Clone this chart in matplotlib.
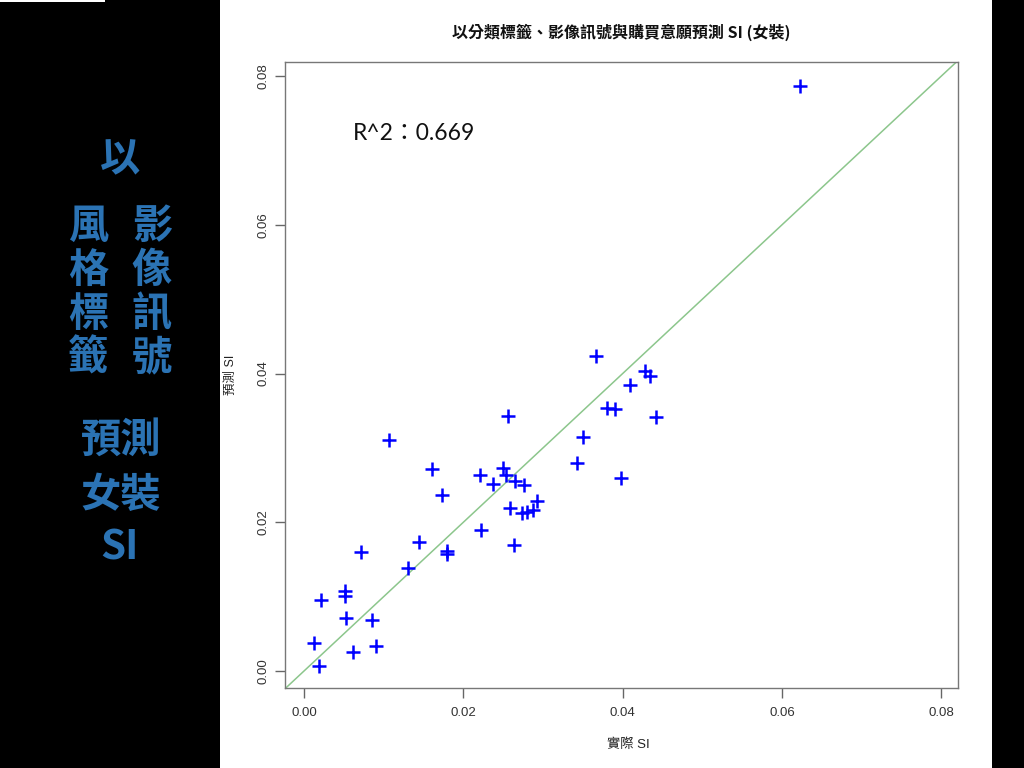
import matplotlib
matplotlib.use('Agg')
import matplotlib.pyplot as plt
from matplotlib.patches import Rectangle

actual_si = [0.0622, 0.0367, 0.0428, 0.0434, 0.0409, 0.0380, 0.0390, 0.0256,
             0.0442, 0.0106, 0.0350, 0.0161, 0.0343, 0.0221, 0.0250, 0.0253,
             0.0237, 0.0265, 0.0276, 0.0398, 0.0173, 0.0258, 0.0274, 0.0280,
             0.0287, 0.0292, 0.0222, 0.0264, 0.0144, 0.0071, 0.0179, 0.0179,
             0.0130, 0.0051, 0.0051, 0.0021, 0.0052, 0.0085, 0.0013, 0.0062,
             0.0090, 0.0019]
pred_si = [0.0787, 0.0423, 0.0403, 0.0397, 0.0385, 0.0353, 0.0352, 0.0343,
           0.0342, 0.0311, 0.0314, 0.0271, 0.0280, 0.0264, 0.0273, 0.0264,
           0.0252, 0.0256, 0.0250, 0.0260, 0.0236, 0.0219, 0.0212, 0.0214,
           0.0216, 0.0228, 0.0190, 0.0170, 0.0173, 0.0160, 0.0161, 0.0157,
           0.0139, 0.0108, 0.0101, 0.0095, 0.0071, 0.0069, 0.0037, 0.0026,
           0.0033, 0.0007]

ticks = [0.00, 0.02, 0.04, 0.06, 0.08]
tick_labels = ['0.00', '0.02', '0.04', '0.06', '0.08']

title = '以分類標籤、影像訊號與購買意願預測 SI (女裝)'
r2_text = 'R^2：0.669'

cjk = ['Noto Sans CJK TC', 'DejaVu Sans']
latin_cjk = ['Liberation Sans', 'Noto Sans CJK TC']
side_blue = '#2b73b4'

fig = plt.figure(figsize=(10.24, 7.68), dpi=100, facecolor='black')
# white slide area
fig.patches.append(Rectangle((220 / 1024, 0), 772 / 1024, 1, transform=fig.transFigure,
                             facecolor='white', edgecolor='none', zorder=-2))
fig.patches.append(Rectangle((0, 1 - 2 / 768), 105 / 1024, 2 / 768, transform=fig.transFigure,
                             facecolor='white', edgecolor='none', zorder=-2))

ax = fig.add_axes([285 / 1024, 80 / 768, 673 / 1024, 626 / 768])
ax.set_zorder(2)
ax.set_facecolor('white')
ax.plot(actual_si, pred_si, linestyle='none', marker='+', color='#0000ff',
        markersize=10, markeredgewidth=1.8, zorder=3)
ax.axline((0, 0), slope=1, color='#8cc68c', linewidth=1.1, zorder=2)

ax.set_xlim(-0.0024, 0.0821)
ax.set_ylim(-0.0023, 0.0819)
ax.set_xticks(ticks)
ax.set_xticklabels(tick_labels)
ax.set_yticks(ticks)
ax.set_yticklabels(tick_labels, rotation=90, va='center')
ax.tick_params(length=7, width=1, color='#666666', labelcolor='#333333', labelsize=9.5)
ax.tick_params(axis='x', pad=7)
ax.tick_params(axis='y', pad=4)
for lab in ax.get_xticklabels() + ax.get_yticklabels():
    lab.set_family('Liberation Sans')
for sp in ax.spines.values():
    sp.set_color('#777777')
    sp.set_linewidth(1)

ax.text(0.0061, 0.0723, r2_text, fontsize=16.5, family=['Lato', 'Noto Sans CJK TC'],
        color='#111111', ha='left', va='center')

fig.text(621 / 1024, 1 - 32 / 768, title, fontsize=11.5, fontweight='bold', family=cjk,
         ha='center', va='center', color='#111111')
fig.text(628 / 1024, 1 - 745 / 768, '實際 SI', fontsize=9.5, family=latin_cjk,
         ha='center', va='center', color='#222222')
fig.text(231 / 1024, 1 - 375 / 768, '預測 SI', fontsize=9, family=latin_cjk,
         rotation=90, ha='center', va='center', color='#222222')

# vertical slide caption on the left
side = dict(fontsize=29, fontweight='heavy', family=cjk, color=side_blue,
            ha='center', va='center')
fig.text(120 / 1024, 1 - 160 / 768, '以', **side)
for i, (a, b) in enumerate(zip('風格標籤', '影像訊號')):
    y = 1 - (226 + i * 44) / 768
    fig.text(88 / 1024, y, a, **side)
    fig.text(152 / 1024, y, b, **side)
fig.text(121 / 1024, 1 - 440 / 768, '預測', **side)
fig.text(121 / 1024, 1 - 495 / 768, '女裝', **side)
fig.text(120 / 1024, 1 - 548 / 768, 'SI', **side)

fig.savefig('out.png', dpi=100, facecolor=fig.get_facecolor())
